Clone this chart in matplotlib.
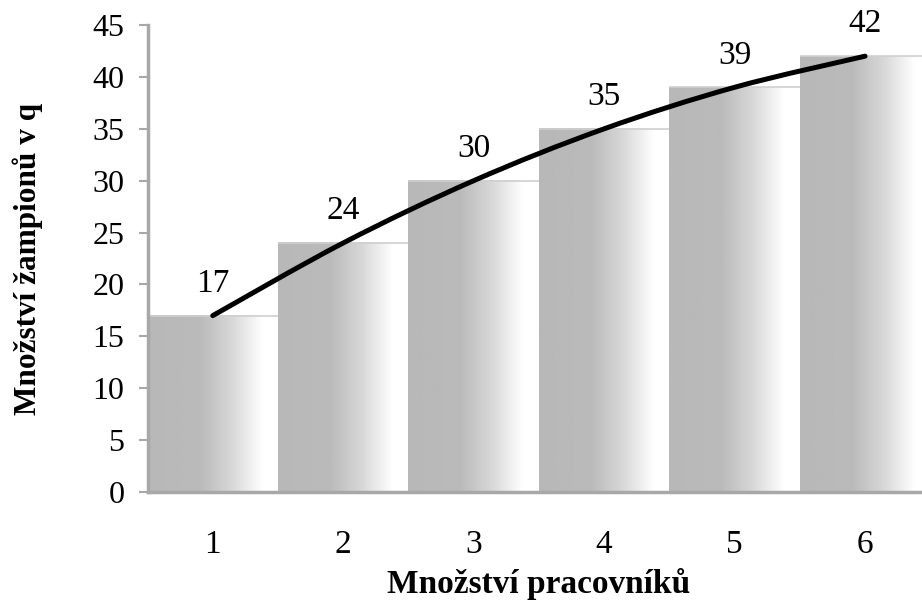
import numpy as np
import matplotlib.pyplot as plt
from matplotlib.path import Path
from matplotlib.patches import PathPatch

# data
workers = [1, 2, 3, 4, 5, 6]
yield_q = [17, 24, 30, 35, 39, 42]
yticks = list(range(0, 50, 5))

plt.rcParams['font.family'] = ['Liberation Serif', 'DejaVu Serif']

fig = plt.figure(figsize=(9.22, 6.03), dpi=100)
ax = fig.add_axes([0.160, 0.184, 0.849, 0.7745])

# bars with a grey-to-white gradient, left to right
grad_pos = [0.0, 0.40, 0.65, 0.88, 1.0]
grad_val = [0.72, 0.73, 0.85, 1.0, 1.0]
grad = np.interp(np.linspace(0, 1, 200), grad_pos, grad_val).reshape(1, -1)
for x, v in zip(workers, yield_q):
    ax.imshow(grad, cmap='gray', vmin=0, vmax=1, aspect='auto',
              extent=[x - 0.5, x + 0.5, 0, v], interpolation='bilinear', zorder=1)
ax.hlines(yield_q, [x - 0.5 for x in workers], [x + 0.5 for x in workers],
          colors='#cfcfcf', linewidth=1.2, zorder=2)
ax.set_xlim(0.5, 6.5)
ax.set_ylim(0, 45)

# smoothed line through the points (Catmull-Rom -> cubic Bezier)
pts = np.column_stack([workers, yield_q]).astype(float)
ext = np.vstack([pts[0], pts, pts[-1]])
verts = [tuple(pts[0])]
codes = [Path.MOVETO]
for i in range(len(pts) - 1):
    p0, p1, p2, p3 = ext[i], ext[i + 1], ext[i + 2], ext[i + 3]
    c1 = p1 + (p2 - p0) / 6
    c2 = p2 - (p3 - p1) / 6
    verts += [tuple(c1), tuple(c2), tuple(p2)]
    codes += [Path.CURVE4] * 3
ax.add_patch(PathPatch(Path(verts, codes), facecolor='none', edgecolor='black',
                       linewidth=3.6, capstyle='round', zorder=3))

for x, v in zip(workers, yield_q):
    ax.annotate(str(v), (x, v), xytext=(0, 12), textcoords='offset points',
                ha='center', va='bottom', fontsize=24)

ax.set_xticks(workers)
ax.set_yticks(yticks)
ax.tick_params(axis='y', length=6.5, width=1.5, color='#a8a8a8', labelsize=23, pad=10)
ax.tick_params(axis='x', length=0, labelsize=24, pad=27)
for s in ['top', 'right']:
    ax.spines[s].set_visible(False)
for s in ['left', 'bottom']:
    ax.spines[s].set_color('#a8a8a8')
    ax.spines[s].set_linewidth(2.5)

ax.set_xlabel('Množství pracovníků', fontsize=24, fontweight='bold', labelpad=6)
ax.set_ylabel('Množství žampionů v q', fontsize=22.5, fontweight='bold', labelpad=36)

fig.savefig('out.png', dpi=100)
